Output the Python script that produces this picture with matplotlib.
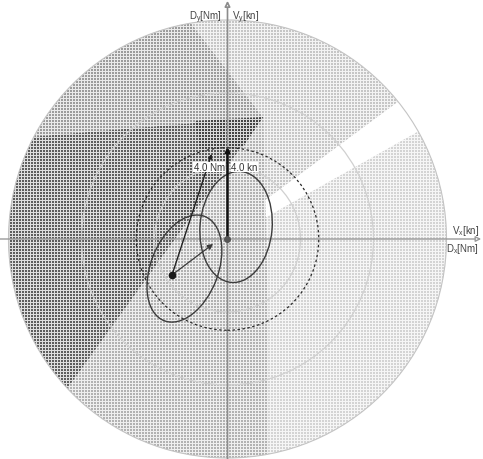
import numpy as np
import matplotlib
matplotlib.use('Agg')
import matplotlib.pyplot as plt
from matplotlib.patches import Circle, Ellipse, Polygon

plt.rcParams['font.family'] = ['Liberation Sans', 'DejaVu Sans']

# radar scale (Nm)
range_max = 12.0
ring_radii = [4.0, 8.0]
cpa_radius = 5.0

# shaded zones, corners in Nm (clipped to the radar circle)
zone_upper_left = [(-3.67, 14), (1.95, 6.68), (-14, 5.32), (-14, 14)]
zone_dark = [(-14, 5.32), (1.95, 6.68), (-12.96, -14), (-14, -14)]
zone_darkest = [(-1.78, 6.47), (1.95, 6.68), (0.85, 5.04), (-1.51, 4.93)]
zone_lower_left = [(1.95, 6.68), (2.22, -3.45), (2.22, -14), (-12.96, -14)]
zone_upper_right = [(-3.67, 14), (1.95, 6.68), (1.78, 1.92), (14, 10.97), (14, 14)]
zone_lower_right = [(1.95, 1.10), (14, 7.90), (14, -14), (2.22, -14), (2.22, -3.45)]
zones = [zone_upper_right, zone_lower_right, zone_upper_left, zone_lower_left,
         zone_dark, zone_darkest]
zone_colors = ['#c6c6c6', '#d4d4d4', '#9c9c9c', '#b2b2b2', '#5e5e5e', '#444444']

# vectors
own_pos = (0.0, 0.0)
own_vector_end = (0.0, 5.04)
target_pos = (-3.04, -1.97)
target_vector_end = (-0.79, -0.27)
relative_vector_end = (-0.87, 4.66)

# uncertainty ellipses: center, major, minor, angle
own_ellipse = [(0.47, 0.66), 6.1, 3.95, 85]
target_ellipse = [(-2.36, -1.62), 6.13, 3.7, 68.7]

fig = plt.figure(figsize=(4.83, 4.60), dpi=100)
ax = fig.add_axes([0, 0, 1, 1])
x0, x1 = -227.5 / 18.25, 255.5 / 18.25
y0, y1 = -220 / 18.25, 240 / 18.25
ax.axis('off')

radar = Circle((0, 0), range_max, transform=ax.transData)

for pts, c in zip(zones, zone_colors):
    p = Polygon(pts, closed=True, fc=c, ec='none', zorder=1)
    ax.add_patch(p)
    p.set_clip_path(radar)

# dither-like white grid
h, w = 460, 483
mask = (np.arange(h)[:, None] % 3 == 0) | (np.arange(w)[None, :] % 3 == 0)
tex = np.ones((h, w, 4))
tex[..., 3] = np.where(mask, 0.8, 0.0)
im = ax.imshow(tex, extent=(x0, x1, y0, y1), origin='upper',
               interpolation='nearest', aspect='auto', zorder=2)
im.set_clip_path(radar)

ax.add_patch(Circle((0, 0), range_max, fc='none', ec='#c4c4c4', lw=0.8, zorder=3))
for r in ring_radii:
    ax.add_patch(Circle((0, 0), r, fc='none', ec='#d0d0d0', lw=0.9, zorder=3))

# axes
ax.annotate('', xy=(13.9, 0), xytext=(x0, 0),
            arrowprops=dict(arrowstyle='-|>', color='#9a9a9a', fc='white',
                            lw=1.0, mutation_scale=8, shrinkA=0, shrinkB=0), zorder=4)
ax.annotate('', xy=(0, 13.05), xytext=(0, y0),
            arrowprops=dict(arrowstyle='-|>', color='#8c8c8c', fc='white',
                            lw=1.2, mutation_scale=8, shrinkA=0, shrinkB=0), zorder=4)

ax.add_patch(Circle((0, 0), cpa_radius, fc='none', ec='#2a2a2a', lw=0.9,
                    ls=(0, (2, 2)), zorder=5))

for e in [own_ellipse, target_ellipse]:
    ax.add_patch(Ellipse(e[0], e[1], e[2], angle=e[3], fc='none', ec='#3c3c3c',
                         lw=1.0, zorder=5))

ax.annotate('', xy=own_vector_end, xytext=own_pos,
            arrowprops=dict(arrowstyle='-|>', color='#111111', lw=1.8,
                            mutation_scale=6, shrinkA=0, shrinkB=0), zorder=6)
ax.annotate('', xy=relative_vector_end, xytext=target_pos,
            arrowprops=dict(arrowstyle='-|>', color='#222222', lw=1.0,
                            mutation_scale=6, shrinkA=0, shrinkB=0), zorder=6)
ax.annotate('', xy=target_vector_end, xytext=target_pos,
            arrowprops=dict(arrowstyle='-|>', color='#3a3a3a', lw=0.9,
                            mutation_scale=8, shrinkA=0, shrinkB=0), zorder=6)

ax.plot(*own_pos, 'o', ms=4, color='#555555', zorder=7)
ax.plot(*target_pos, 'o', ms=4.5, color='#1a1a1a', zorder=7)

ax.text(-0.14, 3.95, '4.0 Nm', ha='right', va='center', fontsize=7, color='#333333',
        bbox=dict(fc='white', ec='none', pad=0.3), zorder=8)
ax.text(0.19, 3.95, '4.0 kn', ha='left', va='center', fontsize=7, color='#333333',
        bbox=dict(fc='white', ec='none', pad=0.3), zorder=8)

ax.text(-0.3, 12.15, r'D$_\mathregular{y}$[Nm]', ha='right', va='center', fontsize=7, color='#444444')
ax.text(0.25, 12.15, r'V$_\mathregular{y}$[kn]', ha='left', va='center', fontsize=7, color='#444444')
ax.text(13.78, 0.49, r'V$_\mathregular{x}$[kn]', ha='right', va='center', fontsize=7, color='#444444')
ax.text(13.78, -0.49, r'D$_\mathregular{x}$[Nm]', ha='right', va='center', fontsize=7, color='#444444')

ax.set_xlim(x0, x1)
ax.set_ylim(y0, y1)
fig.savefig('out.png', dpi=100)
